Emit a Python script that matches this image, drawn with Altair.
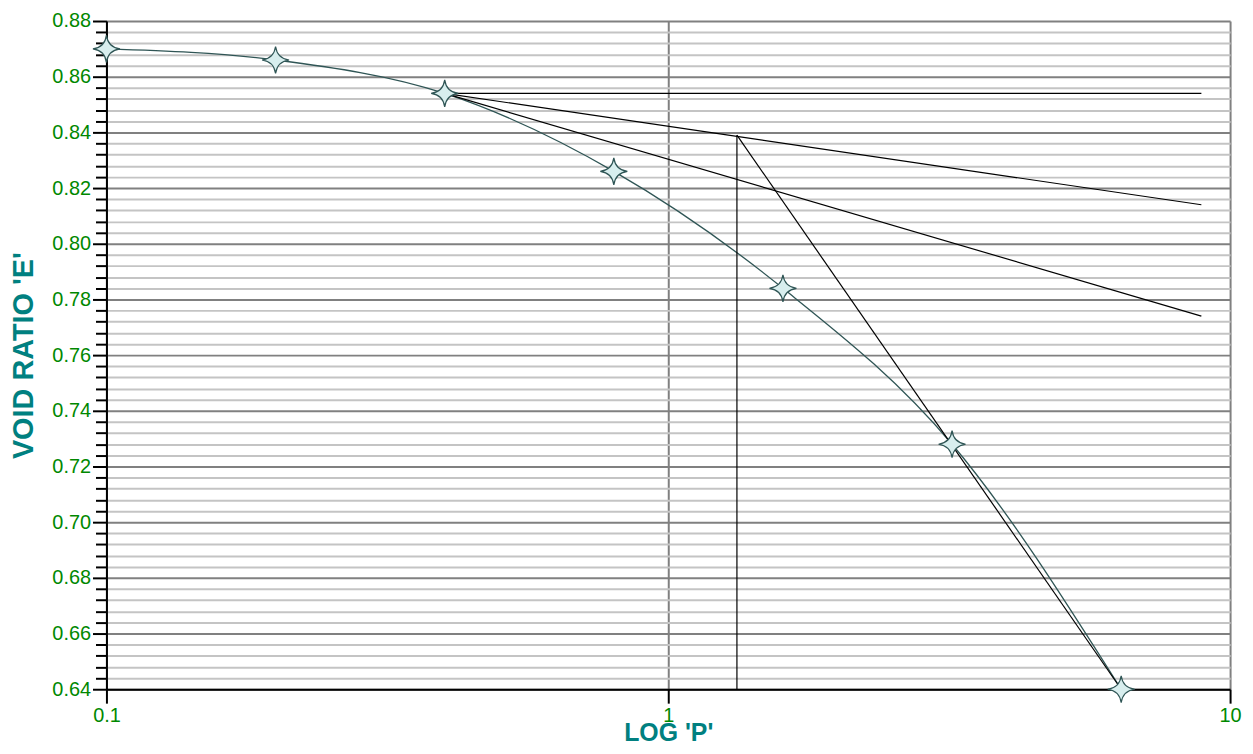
import altair as alt
import pandas as pd

# measured points (pressure, void ratio)
pressure = [0.1, 0.2, 0.4, 0.8, 1.6, 3.2, 6.4]
void_ratio = [0.870, 0.866, 0.854, 0.826, 0.784, 0.728, 0.640]

# construction lines (Casagrande)
seg_x1 = [0.4, 0.4, 0.4, 1.325, 1.325]
seg_y1 = [0.854, 0.854, 0.854, 0.640, 0.839]
seg_x2 = [8.89, 8.89, 8.89, 1.325, 6.4]
seg_y2 = [0.854, 0.814, 0.774, 0.839, 0.640]

x_ticks = [0.1, 1, 10]
y_ticks = [round(0.64 + i * 0.004, 3) for i in range(61)]

pts = pd.DataFrame({"p": pressure, "e": void_ratio})
segs = pd.DataFrame({"x1": seg_x1, "y1": seg_y1, "x2": seg_x2, "y2": seg_y2})

is_major = "abs(datum.value*50 - round(datum.value*50)) < 0.001"

xscale = alt.Scale(type="log", domain=[0.1, 10], nice=False)
yscale = alt.Scale(domain=[0.64, 0.88], nice=False, zero=False)

xaxis = alt.Axis(
    values=x_ticks, tickCount=10, labelExpr="format(datum.value, '~g')",
    title="LOG 'P'", titleFont="Liberation Sans", titleFontSize=25,
    titleFontWeight="bold", titleColor="#008080",
    titleX=565, titleY=52, titleBaseline="alphabetic", titleAlign="center",
    labelFont="Liberation Sans", labelFontSize=20, labelColor="#008800",
    labelFlush=False, labelPadding=2, labelOverlap=False,
    tickSize=14, tickWidth=2, tickColor="black",
    domainColor="black", domainWidth=2,
    grid=True, gridColor="#808080", gridWidth=2,
)
yaxis = alt.Axis(
    values=y_ticks, tickCount=200,
    labelExpr=is_major + " ? format(datum.value, '.2f') : ''",
    title="VOID RATIO 'E'", titleFont="Liberation Sans", titleFontSize=29,
    titleFontWeight="bold", titleColor="#008080",
    titleX=-74, titleY=336, titleAngle=270, titleBaseline="alphabetic", titleAlign="center",
    labelFont="Liberation Sans", labelFontSize=20, labelColor="#008800",
    labelPadding=2, labelOverlap=False, labelBound=False,
    tickSize={"condition": {"test": is_major, "value": 14}, "value": 11},
    tickWidth=2, tickColor="black",
    domainColor="black", domainWidth=2,
    grid=True,
    gridColor={"condition": {"test": is_major, "value": "#808080"}, "value": "#c4c4c4"},
    gridWidth=2,
)

base = alt.Chart(pts)

curve = base.mark_line(interpolate="monotone", color="#2f5555", strokeWidth=1.3).encode(
    x=alt.X("p:Q", scale=xscale, axis=xaxis),
    y=alt.Y("e:Q", scale=yscale, axis=yaxis),
)

lines = alt.Chart(segs).mark_rule(color="black", strokeWidth=1.2).encode(
    x=alt.X("x1:Q", scale=xscale), y=alt.Y("y1:Q", scale=yscale),
    x2="x2:Q", y2="y2:Q",
)

star = "M0,-1 Q0.12,-0.12 1,0 Q0.12,0.12 0,1 Q-0.12,0.12 -1,0 Q-0.12,-0.12 0,-1 Z"
points = base.mark_point(shape=star, size=740, filled=True, fill="#d8eeee",
                         stroke="#2f5555", strokeWidth=1.2, opacity=1).encode(
    x=alt.X("p:Q", scale=xscale), y=alt.Y("e:Q", scale=yscale),
)

chart = alt.layer(curve, lines, points).properties(
    width=1130, height=672,
    autosize=alt.AutoSizeParams(type="none"),
    padding={"left": 99, "top": 11, "right": 15, "bottom": 55},
).configure_view(strokeWidth=0)

chart.save("out.html", embed_options={"renderer": "svg", "actions": False})
